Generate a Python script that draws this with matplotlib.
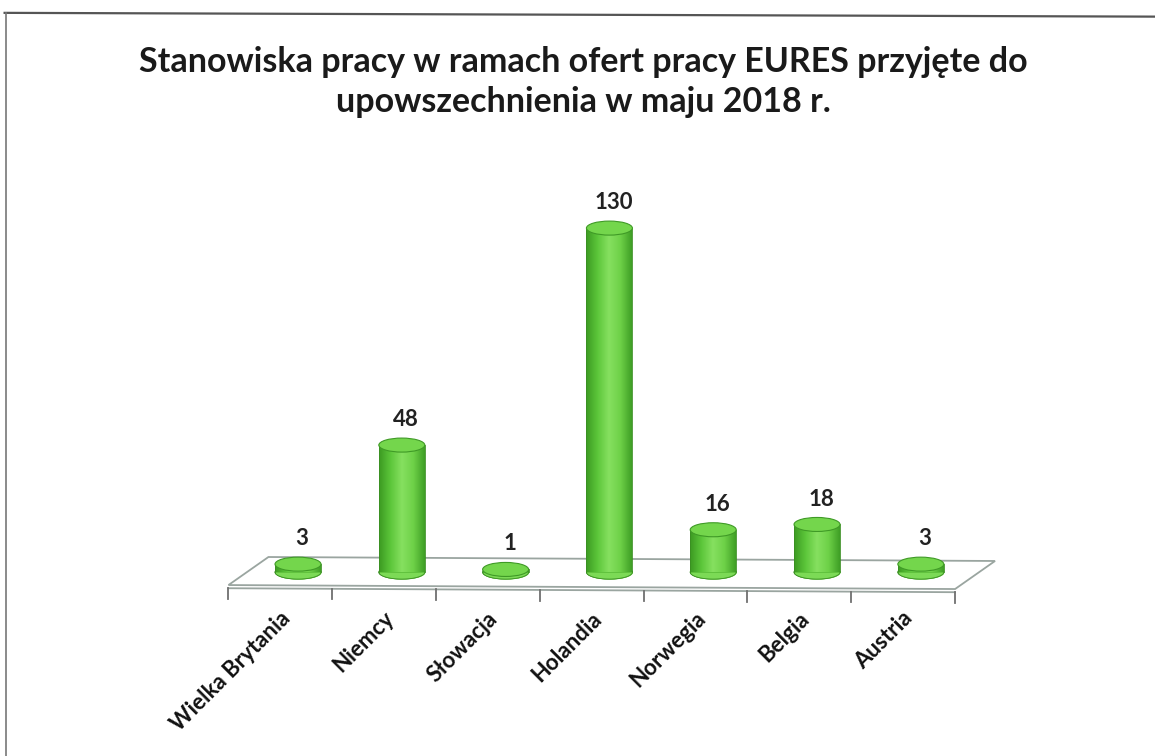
import numpy as np
import matplotlib
matplotlib.use("Agg")
import matplotlib.pyplot as plt
from matplotlib.patches import Ellipse, Rectangle, Polygon
from matplotlib.colors import LinearSegmentedColormap

plt.rcParams['font.family'] = ['Lato', 'DejaVu Sans']

kraje = ["Wielka Brytania", "Niemcy", "Słowacja", "Holandia", "Norwegia", "Belgia", "Austria"]
stanowiska = [3, 48, 1, 130, 16, 18, 3]
tytul = "Stanowiska pracy w ramach ofert pracy EURES przyjęte do\nupowszechnienia w maju 2018 r."

fig = plt.figure(figsize=(11.55, 7.56), dpi=100)
ax = fig.add_axes([0, 0, 1, 1])
ax.set_xlim(-2.871, 8.256)
ax.set_ylim(-69.5, 216.2)
ax.axis("off")

# skan: ramka strony
fig.add_artist(plt.Line2D([0.004, 1.0], [0.983, 0.978], color="#555555", lw=1.6))
fig.add_artist(plt.Line2D([0.005, 0.005], [0.983, 0.0], color="#777777", lw=1.2))

# podloga wykresu 3D
dx, dy = 0.385, 10.6
x0, x1 = -0.67, 6.33
yf = -4.9
floor = Polygon([[x0, yf], [x1, yf - 1.5], [x1 + dx, yf - 1.5 + dy], [x0 + dx, yf + dy]],
                closed=True, facecolor="white", edgecolor="#9aa5a0", lw=1.3, zorder=1)
ax.add_patch(floor)
ax.plot([x0, x1], [yf - 1.2, yf - 2.7], color="#9aa5a0", lw=1.3, zorder=1)
for k in range(len(kraje) + 1):
    xt = x0 + k
    yt = yf - 1.2 - 1.5 * k / len(kraje)
    ax.plot([xt, xt], [yt, yt - 4], color="#707070", lw=1.3, zorder=1)

cmap = LinearSegmentedColormap.from_list("ziel", ["#3c9a22", "#5cc63a", "#86e060", "#6ed148", "#3f9f25"])
grad = np.linspace(0, 1, 200).reshape(1, -1)
w = 0.443
eh = 5.3

for i, (k, v) in enumerate(zip(kraje, stanowiska)):
    # korpus walca
    body = Rectangle((i - w / 2, 0), w, v, transform=ax.transData)
    bottom = Ellipse((i, 0), w, eh, facecolor="#4fb32f", edgecolor="#3a8f22", lw=0.6, zorder=3)
    ax.add_patch(bottom)
    im = ax.imshow(grad, cmap=cmap, extent=(i - w / 2, i + w / 2, 0, v), aspect="auto", zorder=4)
    im.set_clip_path(body)
    ax.plot([i - w / 2, i - w / 2], [0, v], color="#3a8f22", lw=0.6, zorder=4)
    ax.plot([i + w / 2, i + w / 2], [0, v], color="#3a8f22", lw=0.6, zorder=4)
    # dolna polowa elipsy na dole korpusu
    th = np.linspace(np.pi, 2 * np.pi, 50)
    ax.fill_between(i + w / 2 * np.cos(th), eh / 2 * np.sin(th), 0,
                    color=cmap(0.6), zorder=4, lw=0)
    ax.plot(i + w / 2 * np.cos(th), eh / 2 * np.sin(th), color="#3a8f22", lw=0.6, zorder=4)
    top = Ellipse((i, v), w, eh, facecolor="#74d64c", edgecolor="#3f9a26", lw=0.8, zorder=5)
    ax.add_patch(top)
    ax.text(i + 0.04, v + eh / 2 + 3.0, str(v), ha="center", va="bottom",
            fontsize=16, fontweight="bold", color="#222222", zorder=6)
    # etykiety osi
    ax.text(i - 0.18, -13.5, k, rotation=45, rotation_mode="anchor", ha="right", va="top",
            fontsize=16, fontweight="bold", color="#111111")

fig.text(0.505, 0.892, tytul, ha="center", va="center", fontsize=24.5,
         fontweight="bold", color="#1a1a1a", linespacing=1.3)

fig.savefig("out.png", dpi=100, facecolor="white")
